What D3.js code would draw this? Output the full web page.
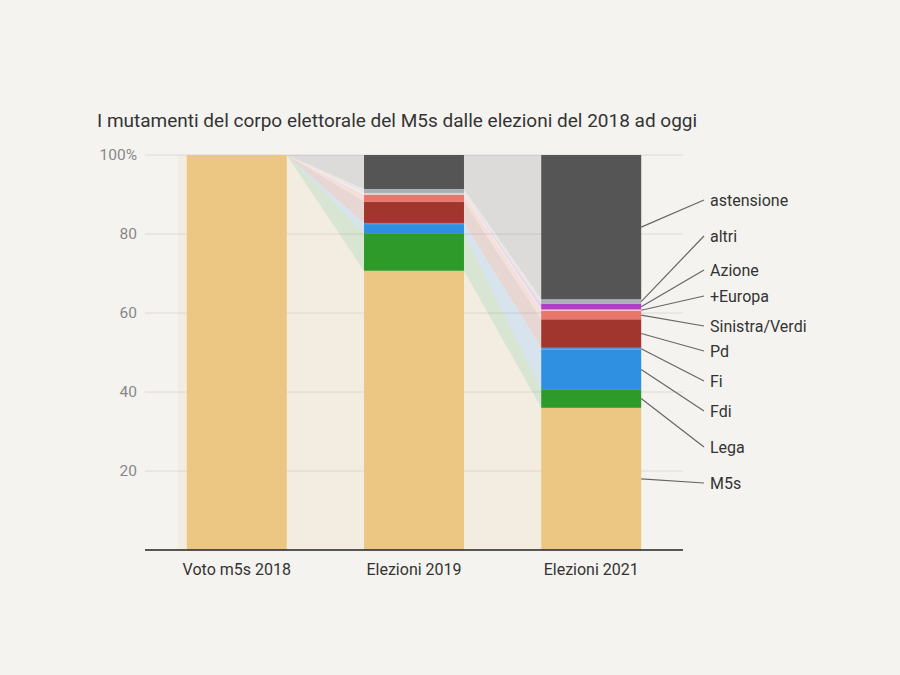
<!DOCTYPE html>
<html lang="it">
<head>
<meta charset="UTF-8">
<title>M5s flussi</title>
<script src="https://cdn.jsdelivr.net/npm/d3@7"></script>
<style>
    body {margin: 0; background: #f5f3f0;}
    svg text {font-family: Roboto, "Noto Sans", sans-serif;}
</style>
</head>
<body>
<div id="graf"></div>
<script>
// dati
const categorie = ["Voto m5s 2018", "Elezioni 2019", "Elezioni 2021"];
const serie = ["M5s", "Lega", "Fdi", "Fi", "Pd", "Sinistra/Verdi", "+Europa", "Azione", "altri", "astensione"];
const valM5s       = [100, 70.7, 36.0];
const valLega      = [0, 9.5, 4.7];
const valFdi       = [0, 2.3, 10.0];
const valFi        = [0, 0.3, 0.5];
const valPd        = [0, 5.4, 7.2];
const valSinistra  = [0, 1.7, 2.1];
const valEuropa    = [0, 0.5, 0.4];
const valAzione    = [0, 0, 1.4];
const valAltri     = [0, 1.0, 1.2];
const valAstensione= [0, 8.6, 36.5];
const yTicks = [20, 40, 60, 80, 100];

const colori = ["#ecc683", "#2e9a2a", "#2f8fe0", "#4a9be4", "#a0362d", "#e8766a", "#f2c8cc", "#b03fc5", "#aab0b8", "#555555"];
// posizioni etichette a destra (layout)
const etichetteY = [483, 447, 411, 381, 351, 326, 296, 270, 236, 200];

const valori = [valM5s, valLega, valFdi, valFi, valPd, valSinistra, valEuropa, valAzione, valAltri, valAstensione];
let tabella = categorie.map(function(c, i) {
    let r = {cat: c};
    serie.forEach(function(s, j) { r[s] = valori[j][i]; });
    return r;
});

let W = 900, H = 675;
let svg = d3.select("#graf").append("svg").attr("width", W).attr("height", H);
svg.append("rect").attr("width", W).attr("height", H).attr("fill", "#f5f3f0");

let x = d3.scaleBand().domain(categorie).range([145, 683]).paddingInner(0.436).paddingOuter(0.236);
let y = d3.scaleLinear().domain([0, 100]).range([550, 155]);
let bw = x.bandwidth();

svg.append("text")
    .attr("x", 97).attr("y", 127)
    .attr("font-size", 19).attr("fill", "#333")
    .text("I mutamenti del corpo elettorale del M5s dalle elezioni del 2018 ad oggi");

// griglia
svg.selectAll(".griglia").data(yTicks).enter().append("line")
    .attr("x1", 145).attr("x2", 683)
    .attr("y1", d => y(d)).attr("y2", d => y(d))
    .attr("stroke", "#dcdad7").attr("stroke-width", 1);
svg.selectAll(".tick").data(yTicks).enter().append("text")
    .attr("x", 137).attr("y", d => y(d))
    .attr("dy", "0.35em").attr("text-anchor", "end")
    .attr("font-size", 15.5).attr("fill", "#888")
    .text(d => d === 100 ? "100%" : d);

let stack = d3.stack().keys(serie)(tabella);

// aree di flusso tra le barre
let punti = [];
categorie.forEach(function(c, i) {
    let x0 = x(c), x1 = x(c) + bw;
    if (i === 0) x0 -= 9;
    punti.push({i: i, px: x0});
    punti.push({i: i, px: x1});
});
let area = d3.area()
    .x(p => p.px);
stack.forEach(function(s, j) {
    svg.append("path")
        .datum(punti)
        .attr("fill", colori[j]).attr("fill-opacity", 0.15)
        .attr("d", area.y0(p => y(s[p.i][0])).y1(p => y(s[p.i][1])));
});

// barre
stack.forEach(function(s, j) {
    svg.selectAll(".b" + j).data(s).enter().append("rect")
        .attr("x", d => x(d.data.cat))
        .attr("width", bw)
        .attr("y", d => y(d[1]))
        .attr("height", d => y(d[0]) - y(d[1]))
        .attr("fill", colori[j]);
});

// asse x
svg.append("line").attr("x1", 145).attr("x2", 683).attr("y1", 550).attr("y2", 550)
    .attr("stroke", "#222").attr("stroke-width", 1.5);
svg.selectAll(".cat").data(categorie).enter().append("text")
    .attr("x", d => x(d) + bw / 2).attr("y", 575)
    .attr("text-anchor", "middle").attr("font-size", 16).attr("fill", "#333")
    .text(d => d);

// etichette a destra
let ultimo = categorie.length - 1;
let xBar = x(categorie[ultimo]) + bw;
stack.forEach(function(s, j) {
    let d = s[ultimo];
    let ym = y((d[0] + d[1]) / 2);
    svg.append("line")
        .attr("x1", xBar).attr("y1", ym)
        .attr("x2", 704).attr("y2", etichetteY[j])
        .attr("stroke", "#666").attr("stroke-width", 1.2);
    svg.append("text")
        .attr("x", 710).attr("y", etichetteY[j]).attr("dy", "0.35em")
        .attr("font-size", 16).attr("fill", "#333")
        .text(serie[j]);
});
</script>
</body>
</html>
